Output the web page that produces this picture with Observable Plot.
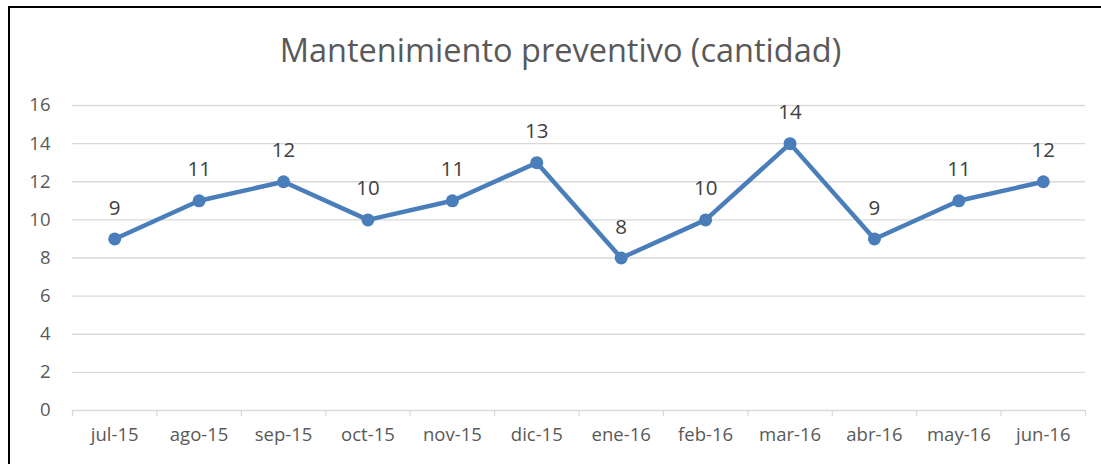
<!DOCTYPE html>
<html>
<head>
<meta charset="utf-8">
<script src="https://cdn.jsdelivr.net/npm/d3@7"></script>
<script src="https://cdn.jsdelivr.net/npm/@observablehq/plot@0.6"></script>
<style>
  html, body { margin: 0; padding: 0; background: #fff; }
  #wrap { position: relative; width: 1101px; height: 464px; overflow: hidden; background: #fff; }
  #frame { position: absolute; left: 8px; top: 6px; width: 1200px; height: 600px; border-left: 2px solid #000; border-top: 2px solid #000; z-index: 2; pointer-events: none; }
  #title { position: absolute; left: 20px; right: 0; top: 28px; text-align: center; font-family: "Open Sans", sans-serif; font-size: 32.5px; color: #595959; line-height: 44px; }
  #chart { position: absolute; left: 0; top: 90px; }
</style>
</head>
<body>
<div id="wrap">
  <div id="frame"></div>
  <div id="title">Mantenimiento preventivo (cantidad)</div>
  <div id="chart"></div>
</div>
<script>
const months = ["jul-15","ago-15","sep-15","oct-15","nov-15","dic-15","ene-16","feb-16","mar-16","abr-16","may-16","jun-16"];
const values = [9, 11, 12, 10, 11, 13, 8, 10, 14, 9, 11, 12];
const yTicks = [0, 2, 4, 6, 8, 10, 12, 14, 16];

const data = months.map((m, i) => ({i, m, v: values[i]}));
const centers = d3.range(months.length);
const bounds = d3.range(months.length + 1).map(i => i - 0.5);

const chart = Plot.plot({
  width: 1101,
  height: 374,
  marginLeft: 72,
  marginRight: 16,
  marginTop: 15,
  marginBottom: 54,
  x: {domain: [-0.5, months.length - 0.5]},
  y: {domain: [0, 16]},
  style: {fontFamily: "'Open Sans', sans-serif", fontSize: "18px", color: "#595959", background: "transparent", overflow: "visible"},
  marks: [
    Plot.gridY(yTicks.filter(t => t > 0), {stroke: "#d9d9d9", strokeOpacity: 1, strokeWidth: 1.3}),
    Plot.ruleY([0], {stroke: "#d9d9d9", strokeWidth: 1.3}),
    Plot.axisY(yTicks, {tickSize: 0, tickPadding: 22, label: null, fontSize: 18.5, fill: "#595959"}),
    Plot.axisX(bounds, {tickSize: 6, tickFormat: () => "", label: null, stroke: "#d9d9d9", strokeWidth: 1.3}),
    Plot.axisX(centers, {tickSize: 0, tickPadding: 17, tickFormat: i => months[i], label: null, fontSize: 18.5, fill: "#595959"}),
    Plot.line(data, {x: "i", y: "v", stroke: "#4a7ebb", strokeWidth: 4.5}),
    Plot.dot(data, {x: "i", y: "v", r: 6.5, fill: "#4a7ebb"}),
    Plot.text(data, {x: "i", y: "v", text: "v", dy: -31, fontSize: 20.5, fill: "#404040"})
  ]
});
document.getElementById("chart").appendChild(chart);
</script>
</body>
</html>
